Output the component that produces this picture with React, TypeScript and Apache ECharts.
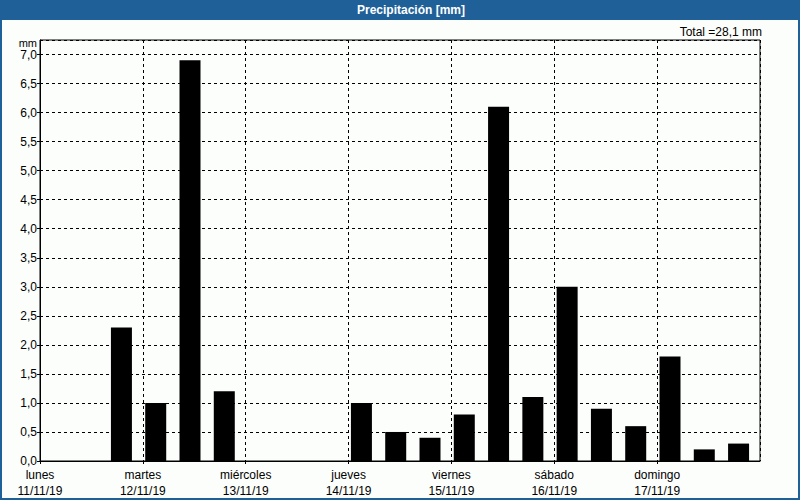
import React, { useEffect, useRef } from "react";
import * as echarts from "echarts";

// 8-hour slots over one week (hour of week at the centre of each bar)
const slotHours = [3, 11, 19, 27, 35, 43, 51, 59, 67, 75, 83, 91, 99, 107, 115, 123, 131, 139, 147, 155, 163];
const precip = [0, 0, 2.3, 1.0, 6.9, 1.2, 0, 0, 0, 1.0, 0.5, 0.4, 0.8, 6.1, 1.1, 3.0, 0.9, 0.6, 1.8, 0.2, 0.3];
const dayNames = ["lunes", "martes", "miércoles", "jueves", "viernes", "sábado", "domingo"];
const dayDates = ["11/11/19", "12/11/19", "13/11/19", "14/11/19", "15/11/19", "16/11/19", "17/11/19"];
const yTicks = [0, 0.5, 1, 1.5, 2, 2.5, 3, 3.5, 4, 4.5, 5, 5.5, 6, 6.5, 7];

const fmt = (v: number) => v.toFixed(1).replace(".", ",");

export default function App() {
  const ref = useRef<HTMLDivElement>(null);
  useEffect(() => {
    if (!ref.current) return;
    const chart = echarts.init(ref.current, null, { renderer: "svg" });
    const total = precip.reduce((a, b) => a + b, 0);
    const font = "'Liberation Sans', Arial, sans-serif";
    chart.setOption({
      animation: false,
      backgroundColor: "#fcfefc",
      textStyle: { fontFamily: font },
      grid: {
        left: 40,
        right: 40,
        top: 40,
        bottom: 39,
        show: true,
        borderColor: "#000",
        borderWidth: 1,
        backgroundColor: "transparent",
      },
      xAxis: {
        type: "value",
        min: 0,
        max: 168,
        interval: 24,
        axisLine: { show: true, onZero: false, lineStyle: { color: "#000", width: 1 } },
        axisTick: { show: true, length: 3, lineStyle: { color: "#000" } },
        splitLine: { show: true, lineStyle: { color: "#000", type: [3, 3], width: 1 } },
        axisLabel: {
          color: "#000",
          fontSize: 12,
          fontFamily: font,
          lineHeight: 16,
          margin: 6,
          showMaxLabel: false,
          formatter: (v: number) => {
            const i = Math.round(v / 24);
            if (i < 0 || i >= dayNames.length) return "";
            return dayNames[i] + "\n" + dayDates[i];
          },
        },
      },
      yAxis: {
        type: "value",
        min: 0,
        max: 7.25,
        interval: 0.5,
        axisLine: { show: true, lineStyle: { color: "#000", width: 1 } },
        axisTick: { show: true, length: 3, lineStyle: { color: "#000" } },
        splitLine: { show: true, lineStyle: { color: "#000", type: [3, 3], width: 1 } },
        axisLabel: {
          color: "#000",
          fontSize: 12,
          lineHeight: 12,
          fontFamily: font,
          margin: 3,
          showMaxLabel: false,
          formatter: (v: number) => (yTicks.some((t) => Math.abs(t - v) < 1e-6) ? fmt(v) : ""),
        },
      },
      series: [
        {
          type: "bar",
          barWidth: 21,
          itemStyle: { color: "#000" },
          data: slotHours.map((h, i) => [h, precip[i]]),
        },
      ],
      graphic: [
        {
          type: "rect",
          shape: { x: 0, y: 0, width: 800, height: 20 },
          style: { fill: "#1f6098" },
          z: 10,
        },
        {
          type: "rect",
          shape: { x: 1, y: 1, width: 798, height: 498 },
          style: { fill: "none", stroke: "#1f6098", lineWidth: 2 },
          z: 10,
        },
        {
          type: "text",
          x: 411,
          y: 10,
          style: {
            text: "Precipitación [mm]",
            fill: "#fff",
            font: "bold 12px " + font,
            align: "center",
            verticalAlign: "middle",
          },
          z: 11,
        },
        {
          type: "text",
          x: 762,
          y: 32,
          style: {
            text: "Total =" + fmt(total) + " mm",
            fill: "#000",
            font: "12px " + font,
            align: "right",
            verticalAlign: "middle",
          },
        },
        {
          type: "text",
          x: 37,
          y: 43,
          style: {
            text: "mm",
            fill: "#000",
            font: "11px " + font,
            align: "right",
            verticalAlign: "middle",
          },
        },
      ],
    });
    return () => chart.dispose();
  }, []);
  return (
    <div
      ref={ref}
      style={{ position: "fixed", left: 0, top: 0, width: 800, height: 500 }}
    />
  );
}
